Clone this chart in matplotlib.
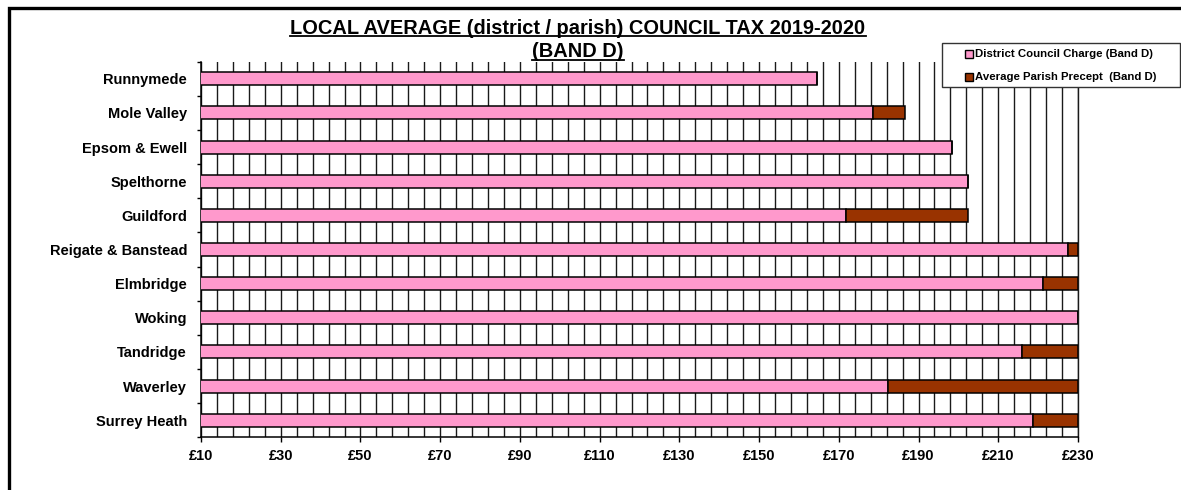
import numpy as np
import matplotlib
matplotlib.use("Agg")
import matplotlib.pyplot as plt
from matplotlib.patches import Rectangle
from matplotlib.lines import Line2D
from matplotlib.ticker import FixedLocator, FuncFormatter

plt.rcParams['font.family'] = ['Liberation Sans', 'DejaVu Sans']
plt.rcParams['font.weight'] = 'bold'

# Band D council tax, 2019-2020 (£)
districts = ["Runnymede", "Mole Valley", "Epsom & Ewell", "Spelthorne", "Guildford",
             "Reigate & Banstead", "Elmbridge", "Woking", "Tandridge", "Waverley",
             "Surrey Heath"]
district_charge = [164.6, 178.5, 198.5, 202.5, 171.8, 227.4, 221.3, 230.0, 216.0, 182.3, 218.7]
parish_precept = [0.0, 8.1, 0.0, 0.0, 30.7, 2.6, 8.7, 0.0, 14.0, 47.7, 11.3]
series_names = ["District Council Charge (Band D)", "Average Parish Precept  (Band D)"]
x_min, x_max = 10, 230

PINK = "#FF99CC"
BROWN = "#993300"

W, H = 1181, 490
fig = plt.figure(figsize=(W / 100, H / 100), dpi=100)
ax = fig.add_axes([201 / W, 1 - 437.3 / H, (1078 - 201) / W, (437.3 - 61.7) / H])

y = np.arange(len(districts))
ax.barh(y, district_charge, height=0.38, color=PINK,
        edgecolor="black", linewidth=1.1, zorder=3)
ax.barh(y, parish_precept, height=0.38, left=district_charge, color=BROWN,
        edgecolor="black", linewidth=1.1, zorder=3)

ax.set_xlim(x_min, x_max)
ax.set_ylim(len(districts) - 0.5, -0.5)

# x axis: labels every £20, vertical grid every £4
ax.xaxis.set_major_locator(FixedLocator(np.arange(x_min, x_max + 1, 20)))
ax.xaxis.set_minor_locator(FixedLocator(np.arange(x_min, x_max + 1, 4)))
ax.xaxis.set_major_formatter(FuncFormatter(lambda v, _: f"£{v:.0f}"))
ax.tick_params(axis="x", which="major", length=3.5, width=1, direction="out",
               labelsize=10.5, pad=5)
ax.tick_params(axis="x", which="minor", length=0)
ax.grid(True, which="both", axis="x", color="#1a1a1a", linewidth=1.0, zorder=0)
ax.grid(False, which="both", axis="y")
ax.set_axisbelow(True)
ax.axvline(x_max, color="#1a1a1a", linewidth=1.0, clip_on=False, zorder=0)

# y axis: category names, tick marks on the category boundaries
ax.set_yticks(y)
ax.set_yticklabels(districts, fontsize=10.5, fontweight="bold")
ax.yaxis.set_minor_locator(FixedLocator(np.arange(-0.5, len(districts), 1.0)))
ax.tick_params(axis="y", which="major", length=0, pad=10)
ax.tick_params(axis="y", which="minor", length=3, width=1, direction="out")
for lab in ax.get_xticklabels():
    lab.set_fontweight("bold")

for s in ("top", "right"):
    ax.spines[s].set_visible(False)
for s in ("left", "bottom"):
    ax.spines[s].set_color("black")
    ax.spines[s].set_linewidth(1.1)

# title, underlined line by line
t1 = fig.text(578 / W, 1 - 28.3 / H, "LOCAL AVERAGE (district / parish) COUNCIL TAX 2019-2020",
              ha="center", va="center", fontsize=14.4, fontweight="bold")
t2 = fig.text(578 / W, 1 - 51.7 / H, "(BAND D)",
              ha="center", va="center", fontsize=14.4, fontweight="bold")
fig.canvas.draw()
renderer = fig.canvas.get_renderer()
for t in (t1, t2):
    bb = t.get_window_extent(renderer)
    yl = bb.y0 + 1.5
    fig.add_artist(Line2D([bb.x0 / W, bb.x1 / W], [yl / H, yl / H],
                          transform=fig.transFigure, color="black", linewidth=1.3))

# legend box
lx0, lx1, ly0, ly1 = 941.7, 1179.5, 42.7, 86.7
fig.add_artist(Rectangle((lx0 / W, 1 - ly1 / H), (lx1 - lx0) / W, (ly1 - ly0) / H,
                         transform=fig.transFigure, facecolor="white",
                         edgecolor="#333333", linewidth=1.0, zorder=5))
for row_y, col, name in zip((54.0, 76.7), (PINK, BROWN), series_names):
    fig.add_artist(Rectangle((965 / W, 1 - (row_y + 4) / H), 8 / W, 8 / H,
                             transform=fig.transFigure, facecolor=col,
                             edgecolor="black", linewidth=1.0, zorder=6))
    fig.text(975 / W, 1 - row_y / H, name, ha="left", va="center",
             fontsize=8.2, fontweight="bold", zorder=6)

# chart frame
fig.add_artist(Rectangle((8.5 / W, -0.1), 1.2, 1 - 8.5 / H + 0.1,
                         transform=fig.transFigure, facecolor="none",
                         edgecolor="black", linewidth=2.4, zorder=10))

fig.savefig("out.png", dpi=100)
